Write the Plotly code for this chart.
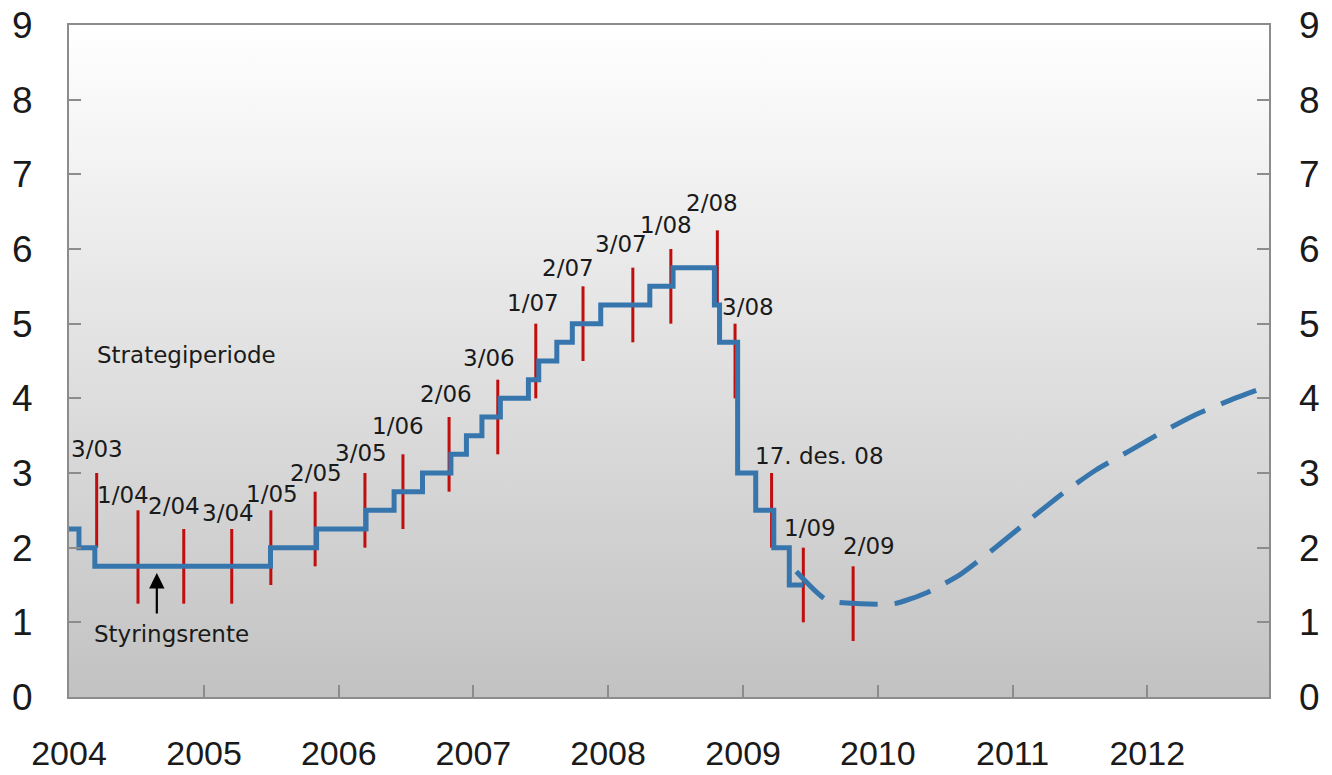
import plotly.graph_objects as go

# ---------------- data ----------------
# Policy rate (styringsrente), step changes
rate_dates = ["2004-01-01", "2004-01-28", "2004-03-11", "2005-06-30", "2005-11-02",
              "2006-03-16", "2006-05-31", "2006-08-16", "2006-11-01", "2006-12-13",
              "2007-01-24", "2007-03-15", "2007-05-30", "2007-06-27", "2007-08-15",
              "2007-09-26", "2007-12-12", "2008-04-23", "2008-06-25", "2008-10-15",
              "2008-10-29", "2008-12-17", "2009-02-04", "2009-03-25", "2009-05-06",
              "2009-06-13"]
rate_values = [2.25, 2.0, 1.75, 2.0, 2.25,
               2.5, 2.75, 3.0, 3.25, 3.5,
               3.75, 4.0, 4.25, 4.5, 4.75,
               5.0, 5.25, 5.5, 5.75, 5.25,
               4.75, 3.0, 2.5, 2.0, 1.5,
               1.5]

# Forecast (dashed)
fc_dates = ["2009-05-25", "2009-08-15", "2009-11-15", "2010-02-15", "2010-05-15",
            "2010-08-15", "2010-11-15", "2011-02-15", "2011-05-15", "2011-08-15",
            "2011-11-15", "2012-02-15", "2012-05-15", "2012-08-15", "2012-11-15"]
fc_values = [1.68, 1.3, 1.25, 1.25, 1.4,
             1.65, 2.0, 2.37, 2.72, 3.04,
             3.3, 3.56, 3.79, 3.98, 4.15]

# Strategy intervals (red bars)
bar_labels = ["3/03", "1/04", "2/04", "3/04", "1/05", "2/05", "3/05", "1/06", "2/06",
              "3/06", "1/07", "2/07", "3/07", "1/08", "2/08", "3/08", "17. des. 08",
              "1/09", "2/09"]
bar_dates = ["2004-03-16", "2004-07-06", "2004-11-07", "2005-03-17", "2005-07-01",
             "2005-10-29", "2006-03-13", "2006-06-24", "2006-10-27", "2007-03-08",
             "2007-06-19", "2007-10-25", "2008-03-08", "2008-06-19", "2008-10-23",
             "2008-12-10", "2009-03-19", "2009-06-13", "2009-10-26"]
bar_low = [2.0, 1.25, 1.25, 1.25, 1.5, 1.75, 2.0, 2.25, 2.75,
           3.25, 4.0, 4.5, 4.75, 5.0, 5.25, 4.0, 2.0, 1.0, 0.75]
bar_high = [3.0, 2.5, 2.25, 2.25, 2.5, 2.75, 3.0, 3.25, 3.75,
            4.25, 5.0, 5.5, 5.75, 6.0, 6.25, 5.0, 3.0, 2.0, 1.75]

years = [2004, 2005, 2006, 2007, 2008, 2009, 2010, 2011, 2012]
y_ticks = [0, 1, 2, 3, 4, 5, 6, 7, 8, 9]

# label offsets (pixels) relative to bar top: (dx, dy up)
label_offsets = [(0, 24), (-15, 15), (-10, 23), (-4, 16), (1, 16), (1, 19), (-4, 20),
                 (-5, 28), (-3, 23), (-9, 22), (-3, 21), (-15, 18), (-12, 24),
                 (-5, 24), (-5, 27), (13, 17), (48, 17), (7, 20), (16, 20)]

# ---------------- figure ----------------
X0, X1 = "2004-01-01", "2012-11-26"
BLUE = "#3776AD"
RED = "#C00D0D"
GREY = "#8c8c8c"
TICKFONT = dict(family="Liberation Sans, Arial, sans-serif", size=37, color="#1a1a1a")
XTICKFONT = dict(family="Liberation Sans, Arial, sans-serif", size=34, color="#1a1a1a")
LABFONT = dict(family="DejaVu Sans, sans-serif", size=23, color="#1a1a1a")

fig = go.Figure()

# gradient background
fig.add_trace(go.Scatter(
    x=[X0, X1, X1, X0, X0], y=[0, 0, 9, 9, 0], mode="lines", fill="toself",
    line=dict(width=0), fillgradient=dict(type="vertical", start=0, stop=9,
                                          colorscale=[[0, "#c2c2c2"], [1, "#ffffff"]]),
    hoverinfo="skip", showlegend=False))

# red bars
bx, by = [], []
for d, lo, hi in zip(bar_dates, bar_low, bar_high):
    bx += [d, d, None]
    by += [lo, hi, None]
fig.add_trace(go.Scatter(x=bx, y=by, mode="lines", line=dict(color=RED, width=3),
                         hoverinfo="skip", showlegend=False))

# policy rate
fig.add_trace(go.Scatter(x=rate_dates, y=rate_values, mode="lines",
                         line=dict(color=BLUE, width=5, shape="hv"),
                         showlegend=False))
# forecast
fig.add_trace(go.Scatter(x=fc_dates, y=fc_values, mode="lines",
                         line=dict(color=BLUE, width=5, dash="38px,17px",
                                   shape="spline", smoothing=0.6),
                         showlegend=False))
# dummy for right axis
fig.add_trace(go.Scatter(x=[X0], y=[0], yaxis="y2", mode="lines",
                         line=dict(width=0), hoverinfo="skip", showlegend=False))

annotations = []
for lab, d, hi, (dx, dy) in zip(bar_labels, bar_dates, bar_high, label_offsets):
    annotations.append(dict(x=d, y=hi, xref="x", yref="y", text=lab, showarrow=False,
                            xanchor="center", yanchor="middle", xshift=dx, yshift=dy,
                            font=LABFONT))
annotations.append(dict(x=0.0983, y=0.509, xref="paper", yref="paper", text="Strategiperiode",
                        showarrow=False, xanchor="center", yanchor="middle", font=LABFONT))
annotations.append(dict(x=0.0858, y=0.094, xref="paper", yref="paper", text="Styringsrente",
                        showarrow=False, xanchor="center", yanchor="middle", font=LABFONT))
annotations.append(dict(x="2004-08-26", y=1.66, xref="x", yref="y", text="", showarrow=True,
                        ax=0, ay=42, arrowhead=2, arrowsize=1.4, arrowwidth=2.2,
                        arrowcolor="#000000", standoff=0, startstandoff=0))

fig.update_layout(
    width=1332, height=775,
    margin=dict(l=69, r=63, t=25, b=78, autoexpand=False),
    paper_bgcolor="white", plot_bgcolor="white",
    showlegend=False,
    xaxis=dict(type="date", range=[X0, X1], automargin=False,
               tickvals=[f"{y}-01-01" for y in years], ticktext=[str(y) for y in years],
               ticks="inside", ticklen=12, tickwidth=1.5, tickcolor=GREY,
               showline=True, linewidth=2, linecolor=GREY, mirror=True,
               showgrid=False, zeroline=False, tickfont=XTICKFONT, ticklabelstandoff=25),
    yaxis=dict(range=[0, 9], tickvals=y_ticks, ticks="inside", ticklen=12, tickwidth=1.5,
               automargin=False,
               tickcolor=GREY, showline=True, linewidth=2, linecolor=GREY, mirror=True,
               showgrid=False, zeroline=False, tickfont=TICKFONT, ticklabelstandoff=27),
    yaxis2=dict(range=[0, 9], tickvals=y_ticks, overlaying="y", side="right",
                automargin=False,
                ticks="inside", ticklen=12, tickwidth=1.5, tickcolor=GREY,
                showline=False, showgrid=False, zeroline=False, tickfont=TICKFONT,
                ticklabelstandoff=29),
    annotations=annotations,
)

fig.write_html("out.html", config={"displayModeBar": False},
               post_script="document.body.style.margin='0';document.body.style.overflow='hidden';")
